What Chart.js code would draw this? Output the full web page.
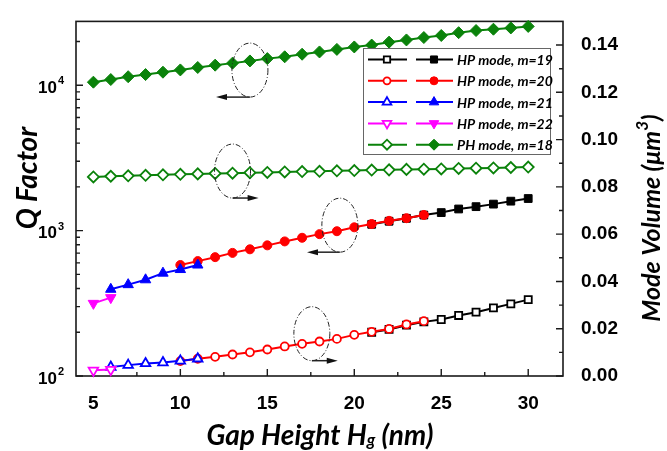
<!DOCTYPE html>
<html>
<head>
<meta charset="utf-8">
<script src="https://cdn.jsdelivr.net/npm/chart.js@4.4.0/dist/chart.umd.min.js"></script>
<style>
  html, body { margin: 0; padding: 0; background: #fff; }
</style>
</head>
<body>
<canvas id="myChart" width="667" height="451"></canvas>
<script>
// gap heights (nm) for every mode
var gapPH = [5, 6, 7, 8, 9, 10, 11, 12, 13, 14, 15, 16, 17, 18, 19, 20, 21, 22, 23, 24, 25, 26, 27, 28, 29, 30];
var gap19 = [21, 22, 23, 24, 25, 26, 27, 28, 29, 30];
var gap20 = [10, 11, 12, 13, 14, 15, 16, 17, 18, 19, 20, 21, 22, 23, 24];
var gap21 = [6, 7, 8, 9, 10, 11];
var gap22 = [5, 6];

// Q factor (left log axis, filled markers)
var qPH = [10500, 10950, 11450, 11850, 12300, 12750, 13250, 13750, 14200, 14700, 15250, 15700, 16350,
           16950, 17650, 18350, 18900, 19800, 20500, 21300, 22000, 23000, 23800, 24300, 24800, 25400];
var q19 = [1105, 1160, 1215, 1280, 1331, 1409, 1462, 1522, 1595, 1663];
var q20 = [580, 617, 657, 703, 744, 792, 843, 893, 946, 991, 1054, 1110, 1168, 1218, 1282];
var q21 = [395, 425, 459, 510, 540, 580];
var q22 = [316, 346];

// mode volume in um^3 (right axis, open markers)
var vPH = [0.0842, 0.0845, 0.0847, 0.0849, 0.0851, 0.0853, 0.0855, 0.0857, 0.0858, 0.0860, 0.0861, 0.0863, 0.0865,
           0.0866, 0.0868, 0.0869, 0.0871, 0.0872, 0.0874, 0.0875, 0.0876, 0.0878, 0.0879, 0.0880, 0.0882, 0.0884];
var v19 = [0.0185, 0.0197, 0.0215, 0.0229, 0.0239, 0.0256, 0.0270, 0.0288, 0.0305, 0.0323];
var v20 = [0.0063, 0.0073, 0.0081, 0.0091, 0.0100, 0.0112, 0.0125, 0.0136, 0.0146, 0.0157, 0.0174, 0.0187, 0.0199, 0.0218, 0.0232];
var v21 = [0.0038, 0.0046, 0.0053, 0.0057, 0.0064, 0.0073];
var v22 = [0.0024, 0.0027];

// tick values
var xTicks = [5, 10, 15, 20, 25, 30];
var qTicks = [100, 1000, 10000];
var vTicks = [0, 0.02, 0.04, 0.06, 0.08, 0.10, 0.12, 0.14];

// modes, in legend order (order = drawing order, lower is on top)
var modes = [
    { label: 'HP mode, m=19', color: '#000000', style: 'rect', rot: 0, r: 5.5, gap: gap19, q: q19, v: v19, order: 5 },
    { label: 'HP mode, m=20', color: '#ff0000', style: 'circle', rot: 0, r: 4.5, gap: gap20, q: q20, v: v20, order: 4 },
    { label: 'HP mode, m=21', color: '#0000ff', style: 'triangle', rot: 0, r: 6, gap: gap21, q: q21, v: v21, order: 3 },
    { label: 'HP mode, m=22', color: '#ff00ff', style: 'triangle', rot: 180, r: 6, gap: gap22, q: q22, v: v22, order: 2 },
    { label: 'PH mode, m=18', color: '#0a820a', style: 'rectRot', rot: 0, r: 6, gap: gapPH, q: qPH, v: vPH, order: 1 }
];

// dash-dot ellipses with arrows (x in nm, v on the volume axis, arrow tip x in nm)
var notes = [
    { x: 14.0, v: 0.1294, tipX: 12.05 },
    { x: 13.0, v: 0.0867, tipX: 14.5 },
    { x: 19.17, v: 0.0638, tipX: 17.28 },
    { x: 17.56, v: 0.0179, tipX: 19.05 }
];

function toPoints(xs, ys) {
    return xs.map(function(x, i) { return { x: x, y: ys[i] }; });
}

var datasets = [];
modes.forEach(function(m) {
    //filled markers -> Q factor
    datasets.push({
        label: m.label + ' Q', yAxisID: 'y', data: toPoints(m.gap, m.q),
        borderColor: m.color, backgroundColor: m.color, borderWidth: 2,
        pointStyle: m.style, pointRotation: m.rot, pointRadius: m.r,
        pointBackgroundColor: m.color, pointBorderColor: m.color, pointBorderWidth: 1,
        tension: 0, clip: false, order: m.order
    });
    //open markers -> mode volume
    datasets.push({
        label: m.label + ' V', yAxisID: 'y1', data: toPoints(m.gap, m.v),
        borderColor: m.color, backgroundColor: '#ffffff', borderWidth: 2,
        pointStyle: m.style, pointRotation: m.rot, pointRadius: m.r - 0.5,
        pointBackgroundColor: '#ffffff', pointBorderColor: m.color, pointBorderWidth: 1.8,
        tension: 0, clip: false, order: m.order
    });
});

function drawRich(ctx, parts, cx, cy, rot) {
    ctx.save();
    ctx.translate(cx, cy);
    ctx.rotate(rot);
    var total = 0;
    parts.forEach(function(p) { ctx.font = p.font; p.w = ctx.measureText(p.t).width; total += p.w; });
    var x = -total / 2;
    ctx.textBaseline = 'middle';
    ctx.textAlign = 'left';
    ctx.fillStyle = '#000';
    parts.forEach(function(p) { ctx.font = p.font; ctx.fillText(p.t, x, p.dy || 0); x += p.w; });
    ctx.restore();
}

var framePlugin = {
    id: 'frame',
    beforeDatasetsDraw: function(chart) {
        var ctx = chart.ctx, a = chart.chartArea;
        var sx = chart.scales.x, sy = chart.scales.y, sv = chart.scales.y1;
        ctx.save();
        ctx.strokeStyle = '#1a1a1a';
        ctx.lineWidth = 1.6;
        ctx.strokeRect(a.left, a.top, a.right - a.left, a.bottom - a.top);

        ctx.lineWidth = 1.4;
        ctx.beginPath();
        //x ticks, pointing in
        for (var t = 5; t <= 30; t += 2.5) {
            var px = sx.getPixelForValue(t);
            var len = (t % 5 === 0) ? 7 : 4;
            ctx.moveTo(px, a.bottom);
            ctx.lineTo(px, a.bottom - len);
        }
        //log ticks on the left
        for (var d = 100; d <= 10000; d *= 10) {
            for (var k = 1; k <= 9; k++) {
                var val = d * k;
                if (val > sy.max) break;
                var py = sy.getPixelForValue(val);
                ctx.moveTo(a.left, py);
                ctx.lineTo(a.left + (k === 1 ? 7 : 4), py);
            }
        }
        //volume ticks on the right
        for (var i = 0; i <= 14; i++) {
            var pv = sv.getPixelForValue(i * 0.01);
            ctx.moveTo(a.right, pv);
            ctx.lineTo(a.right - (i % 2 === 0 ? 7 : 4), pv);
        }
        ctx.stroke();

        //left labels 10^n
        ctx.fillStyle = '#000';
        ctx.textBaseline = 'middle';
        qTicks.forEach(function(v) {
            var py = sy.getPixelForValue(v);
            var exp = String(Math.round(Math.log10(v)));
            ctx.font = 'bold 17px "Liberation Sans"';
            ctx.textAlign = 'right';
            ctx.fillText('10', 57, py + 3);
            ctx.font = 'bold 11px "Liberation Sans"';
            ctx.textAlign = 'left';
            ctx.fillText(exp, 58, py - 4);
        });
        ctx.restore();
    },
    afterDatasetsDraw: function(chart) {
        var ctx = chart.ctx;
        var sx = chart.scales.x, sv = chart.scales.y1;
        ctx.save();
        notes.forEach(function(n) {
            var cx = sx.getPixelForValue(n.x), cy = sv.getPixelForValue(n.v);
            ctx.strokeStyle = '#222';
            ctx.lineWidth = 1;
            ctx.setLineDash([5, 2, 1, 2]);
            ctx.beginPath();
            ctx.ellipse(cx, cy, 18, 27, 0, 0, 2 * Math.PI);
            ctx.stroke();
            ctx.setLineDash([]);
            var ay = cy + 27, tx = sx.getPixelForValue(n.tipX);
            var dir = tx < cx ? -1 : 1;
            ctx.lineWidth = 1.5;
            ctx.beginPath();
            ctx.moveTo(cx, ay);
            ctx.lineTo(tx - dir * 6, ay);
            ctx.stroke();
            ctx.fillStyle = '#111';
            ctx.beginPath();
            ctx.moveTo(tx, ay);
            ctx.lineTo(tx - dir * 11, ay - 3);
            ctx.lineTo(tx - dir * 11, ay + 3);
            ctx.closePath();
            ctx.fill();
        });
        ctx.restore();
    },
    afterDraw: function(chart) {
        var ctx = chart.ctx;
        ctx.save();
        //legend box
        ctx.fillStyle = '#fff';
        ctx.fillRect(363, 48, 187, 106);
        ctx.strokeStyle = '#666';
        ctx.lineWidth = 1;
        ctx.strokeRect(363.5, 48.5, 187, 106);
        modes.forEach(function(m, i) {
            var y = 59.5 + i * 21.3;
            ctx.strokeStyle = m.color;
            ctx.lineWidth = 2;
            ctx.beginPath();
            ctx.moveTo(368, y); ctx.lineTo(407, y);
            ctx.moveTo(416, y); ctx.lineTo(453, y);
            ctx.stroke();
            ctx.fillStyle = '#fff';
            ctx.lineWidth = 1.8;
            Chart.helpers.drawPoint(ctx, { pointStyle: m.style, rotation: m.rot, radius: m.r - 1, borderWidth: 1.8 }, 387, y);
            ctx.fillStyle = m.color;
            ctx.lineWidth = 1;
            Chart.helpers.drawPoint(ctx, { pointStyle: m.style, rotation: m.rot, radius: m.r - 0.5, borderWidth: 1 }, 434, y);
            ctx.fillStyle = '#000';
            ctx.font = 'italic bold 14px Lato';
            ctx.textAlign = 'left';
            ctx.textBaseline = 'middle';
            ctx.fillText(m.label, 457, y + 1);
        });
        ctx.restore();

        //axis titles
        var tf = 'italic bold 28px Lato';
        var sf = 'italic bold 17px Lato';
        var rf = 'italic bold 25px Lato';
        drawRich(ctx, [{ t: 'Q Factor', font: tf }], 28, 178, -Math.PI / 2);
        drawRich(ctx, [{ t: 'Gap Height H', font: tf }, { t: 'g', font: sf, dy: 5 }, { t: ' (nm)', font: tf }], 320, 436, 0);
        drawRich(ctx, [{ t: 'Mode Volume (', font: rf }, { t: '\u03bcm', font: rf }, { t: '3', font: sf, dy: -9 }, { t: ')', font: rf }], 652, 218, -Math.PI / 2);
    }
};

var ctx = document.getElementById('myChart');
var myChart = new Chart(ctx, {
    type: 'line',
    data: { datasets: datasets },
    options: {
        responsive: false,
        animation: false,
        layout: { padding: { top: 15, left: 0, right: 0, bottom: 0 } },
        plugins: { legend: { display: false }, tooltip: { enabled: false } },
        scales: {
            x: {
                type: 'linear', min: 4, max: 32,
                grid: { display: false }, border: { display: false },
                ticks: { stepSize: 5, color: '#000', padding: 8, maxRotation: 0,
                         font: { family: 'Liberation Sans', size: 19, weight: 'bold' } },
                afterBuildTicks: function(s) {
                    s.ticks = xTicks.map(function(v) { return { value: v }; });
                },
                afterFit: function(s) { s.height = 75; }
            },
            y: {
                type: 'logarithmic', position: 'left', min: 100, max: 27500,
                grid: { display: false }, border: { display: false },
                ticks: { display: false },
                afterBuildTicks: function(s) {
                    s.ticks = qTicks.map(function(v) { return { value: v }; });
                },
                afterFit: function(s) { s.width = 76; }
            },
            y1: {
                type: 'linear', position: 'right', min: 0, max: 0.15,
                grid: { display: false }, border: { display: false },
                ticks: { color: '#000', padding: 10,
                         font: { family: 'Liberation Sans', size: 19, weight: 'bold' },
                         callback: function(v) { return v.toFixed(2); } },
                afterBuildTicks: function(s) {
                    s.ticks = vTicks.map(function(v) { return { value: v }; });
                },
                afterFit: function(s) { s.width = 104; }
            }
        }
    },
    plugins: [framePlugin]
});
</script>
</body>
</html>
